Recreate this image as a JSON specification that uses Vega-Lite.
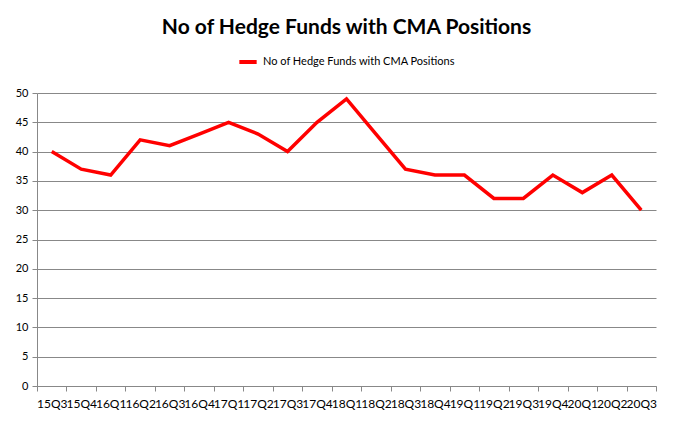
{
  "$schema": "https://vega.github.io/schema/vega-lite/v6.json",
  "width": 677,
  "height": 431,
  "autosize": {"type": "fit", "contains": "padding"},
  "padding": {"left": 15, "top": 17, "right": 20, "bottom": 22},
  "background": "white",
  "title": {
    "text": "No of Hedge Funds with CMA Positions",
    "font": "Lato",
    "fontSize": 21,
    "fontWeight": "bold",
    "color": "#000000",
    "anchor": "middle",
    "offset": 13
  },
  "data": {
    "values": [
      {"q": "15Q3", "v": 40},
      {"q": "15Q4", "v": 37},
      {"q": "16Q1", "v": 36},
      {"q": "16Q2", "v": 42},
      {"q": "16Q3", "v": 41},
      {"q": "16Q4", "v": 43},
      {"q": "17Q1", "v": 45},
      {"q": "17Q2", "v": 43},
      {"q": "17Q3", "v": 40},
      {"q": "17Q4", "v": 45},
      {"q": "18Q1", "v": 49},
      {"q": "18Q2", "v": 43},
      {"q": "18Q3", "v": 37},
      {"q": "18Q4", "v": 36},
      {"q": "19Q1", "v": 36},
      {"q": "19Q2", "v": 32},
      {"q": "19Q3", "v": 32},
      {"q": "19Q4", "v": 36},
      {"q": "20Q1", "v": 33},
      {"q": "20Q2", "v": 36},
      {"q": "20Q3", "v": 30}
    ]
  },
  "mark": {"type": "line", "strokeWidth": 3.5, "color": "#ff0000"},
  "encoding": {
    "x": {
      "field": "q",
      "type": "ordinal",
      "sort": null,
      "scale": {"type": "band", "paddingInner": 0, "paddingOuter": 0},
      "axis": {
        "title": null,
        "labelAngle": 0,
        "labelFont": "Lato",
        "labelFontSize": 12,
        "labelColor": "#000000",
        "labelPadding": 7,
        "labelOverlap": false,
        "tickBand": "extent",
        "tickSize": 5,
        "tickColor": "#888888",
        "domainColor": "#888888",
        "grid": false
      }
    },
    "y": {
      "field": "v",
      "type": "quantitative",
      "scale": {"domain": [0, 50]},
      "axis": {
        "title": null,
        "values": [0, 5, 10, 15, 20, 25, 30, 35, 40, 45, 50],
        "labelFont": "Lato",
        "labelFontSize": 11,
        "labelColor": "#000000",
        "labelPadding": 4,
        "tickSize": 5,
        "tickColor": "#888888",
        "domainColor": "#888888",
        "gridColor": "#888888",
        "gridWidth": 1
      }
    },
    "color": {
      "datum": "No of Hedge Funds with CMA Positions",
      "scale": {"range": ["#ff0000"]},
      "legend": {
        "title": null,
        "orient": "top",
        "direction": "horizontal",
        "symbolType": "stroke",
        "symbolStrokeWidth": 4,
        "symbolSize": 300,
        "labelFont": "Lato",
        "labelFontSize": 11,
        "labelLimit": 400,
        "labelColor": "#000000",
        "offset": 23
      }
    }
  },
  "config": {
    "view": {"stroke": null},
    "legend": {"layout": {"anchor": "middle"}}
  }
}
